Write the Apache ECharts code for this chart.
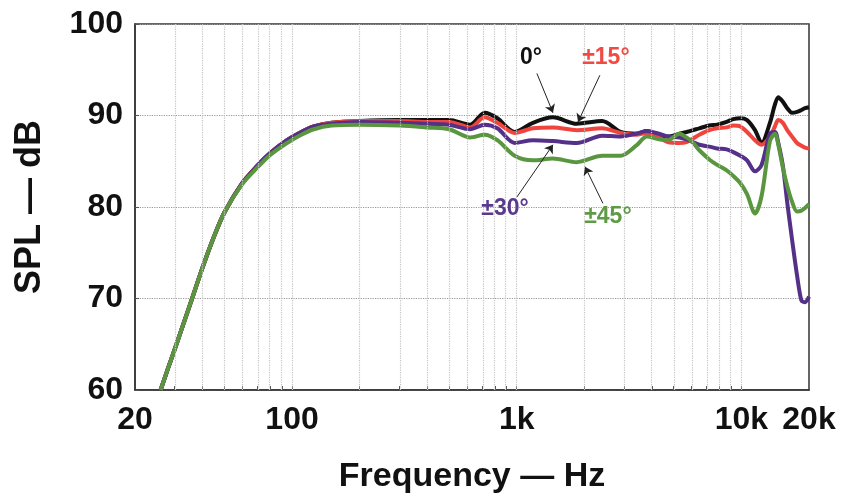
<!DOCTYPE html>
<html>
<head>
<meta charset="utf-8">
<script src="https://cdn.jsdelivr.net/npm/echarts@6/dist/echarts.min.js"></script>
<style>
  html, body { margin: 0; padding: 0; background: #fff; }
  #chart { width: 846px; height: 502px; }
</style>
</head>
<body>
<div id="chart"></div>
<script>
// frequency points (Hz) shared by all curves
var freqs = [26, 28, 30, 32, 35, 40, 45, 50, 60, 70, 80, 95, 110, 125, 150,
  200, 300, 400, 500, 620, 720, 820, 980, 1180, 1450,
  1850, 2400, 2900, 3400, 3800, 4300, 4700, 5300, 5700, 6100,
  6500, 7200, 7800, 8600, 9200, 9900, 10600, 11500, 12300, 13400,
  14100, 14600, 15300, 16000, 16800, 17700, 18500, 19200, 20000];

var spl0 = [60, 62.3, 64.4, 66.4, 69.2, 73.4, 76.8, 79.4, 82.6, 84.5, 85.9, 87.3, 88.2, 88.8, 89.2,
  89.4, 89.5, 89.5, 89.5, 89.0, 90.3, 89.7, 88.2, 89.2, 89.8,
  89.1, 89.4, 88.2, 88.0, 88.3, 87.8, 87.7, 88.0, 88.2, 88.4,
  88.6, 88.9, 89.0, 89.3, 89.6, 89.7, 89.5, 88.4, 87.0, 89.2,
  91.2, 92.0, 91.5, 90.8, 90.3, 90.4, 90.6, 90.8, 90.9];

var spl15 = [60, 62.3, 64.4, 66.4, 69.2, 73.4, 76.8, 79.4, 82.6, 84.5, 85.9, 87.3, 88.2, 88.8, 89.2,
  89.4, 89.4, 89.3, 89.3, 88.7, 89.8, 89.2, 88.1, 88.6, 88.7,
  88.4, 88.6, 88.1, 87.9, 88.1, 87.6, 87.1, 87.0, 87.1, 87.5,
  87.9, 88.4, 88.6, 88.7, 88.9, 88.8, 88.2, 87.3, 86.8, 87.7,
  88.8, 89.5, 89.2, 88.4, 87.7, 87.0, 86.7, 86.5, 86.4];

var spl30 = [60, 62.3, 64.4, 66.4, 69.2, 73.4, 76.8, 79.4, 82.6, 84.5, 85.9, 87.3, 88.2, 88.8, 89.1,
  89.3, 89.2, 89.1, 89.0, 88.5, 89.0, 88.6, 87.0, 87.3, 87.2,
  87.0, 87.8, 87.7, 88.0, 88.3, 88.0, 87.7, 87.6, 87.4, 87.1,
  86.8, 86.6, 86.4, 86.3, 86.0, 85.6, 85.1, 83.9, 84.6, 88.0,
  88.2, 87.0, 84.5, 80.5, 76.5, 72.5, 69.8, 69.6, 70.2];

var spl45 = [60, 62.3, 64.4, 66.4, 69.2, 73.4, 76.8, 79.4, 82.5, 84.3, 85.7, 87.0, 87.9, 88.5, 88.9,
  89.0, 88.9, 88.7, 88.5, 87.6, 87.9, 87.3, 85.6, 85.1, 85.3,
  84.9, 85.6, 85.6, 86.7, 87.7, 87.4, 87.3, 88.0, 87.6, 87.0,
  86.2, 85.2, 84.6, 84.0, 83.4, 82.6, 81.4, 79.3, 81.2, 87.2,
  88.0, 86.8, 84.3, 82.3, 80.6, 79.5, 79.6, 79.9, 80.3];

// axis ticks
var gridFreqs = [30, 40, 50, 60, 70, 80, 90, 100, 200, 300, 400, 500, 600, 700, 800, 900, 1000,
  2000, 3000, 4000, 5000, 6000, 7000, 8000, 9000, 10000];
var labelFreqs = [20, 100, 1000, 10000, 20000];
var labelTexts = ['20', '100', '1k', '10k', '20k'];

// callouts: text, colour, label position, arrow tail, arrow head (Hz, dB)
var callouts = [
  { text: '0°', color: '#111111', at: [1157, 96.3], from: [1230, 94.6], to: [1450, 90.3] },
  { text: '±15°', color: '#f04a45', at: [2494, 96.3], from: [2345, 94.4], to: [1875, 89.3] },
  { text: '±30°', color: '#5a3a8c', at: [887, 79.8], from: [1003, 81.1], to: [1450, 86.8] },
  { text: '±45°', color: '#5f9a45', at: [2546, 78.9], from: [2420, 80.4], to: [2014, 84.4] }
];

var lg = Math.log10;
var font = "'Liberation Sans', Arial, Helvetica, sans-serif";

function toPts(vals) {
  return freqs.map(function (f, i) { return [lg(f), vals[i]]; });
}

function curve(name, vals, color) {
  return {
    name: name,
    type: 'line',
    data: toPts(vals),
    showSymbol: false,
    smooth: 0.3,
    lineStyle: { color: color, width: 4 },
    itemStyle: { color: color },
    z: 3
  };
}

var myChart = echarts.init(document.getElementById('chart'));

var option = {
  animation: false,
  backgroundColor: '#fff',
  grid: {
    left: 135, top: 24, right: 37, bottom: 112,
    show: true, borderColor: '#333', borderWidth: 1.5, backgroundColor: 'transparent'
  },
  xAxis: {
    type: 'value',
    min: lg(20),
    max: lg(20000),
    name: 'Frequency — Hz',
    nameLocation: 'middle',
    nameGap: 70,
    nameTextStyle: { fontFamily: font, fontWeight: 'bold', fontSize: 34, color: '#111' },
    axisLine: { show: true, lineStyle: { color: '#333', width: 1.5 } },
    axisTick: {
      show: true, inside: true, length: 4,
      customValues: gridFreqs.map(lg),
      lineStyle: { color: '#555', width: 1 }
    },
    axisLabel: {
      customValues: labelFreqs.map(lg),
      margin: 14,
      fontFamily: font, fontWeight: 'bold', fontSize: 32, color: '#111',
      formatter: function (v) {
        var best = 0;
        labelFreqs.forEach(function (f, i) {
          if (Math.abs(lg(f) - v) < Math.abs(lg(labelFreqs[best]) - v)) best = i;
        });
        return labelTexts[best];
      }
    },
    splitLine: { show: false }
  },
  yAxis: {
    type: 'value',
    min: 60,
    max: 100,
    interval: 10,
    name: 'SPL — dB',
    nameLocation: 'middle',
    nameGap: 87,
    nameRotate: 90,
    nameTextStyle: { fontFamily: font, fontWeight: 'bold', fontSize: 36, color: '#111' },
    axisLine: { show: true, lineStyle: { color: '#333', width: 1.5 } },
    axisTick: { show: true, inside: true, length: 4, lineStyle: { color: '#555' } },
    axisLabel: { margin: 12, fontFamily: font, fontWeight: 'bold', fontSize: 32, color: '#111' },
    splitLine: { show: true, lineStyle: { type: 'dotted', color: '#999', width: 1.2 } }
  },
  series: [
    {
      name: 'grid',
      type: 'line',
      data: [],
      silent: true,
      markLine: {
        silent: true,
        symbol: 'none',
        label: { show: false },
        lineStyle: { type: 'dotted', color: '#c4c4c4', width: 1.2 },
        data: gridFreqs.map(function (f) { return { xAxis: lg(f) }; })
      },
      z: 1
    },
    curve('0°', spl0, '#111111'),
    curve('±15°', spl15, '#f0453f'),
    curve('±30°', spl30, '#553088'),
    curve('±45°', spl45, '#5a9640'),
    {
      name: 'arrows',
      type: 'lines',
      coordinateSystem: 'cartesian2d',
      silent: true,
      symbol: ['none', 'arrow'],
      symbolSize: 8,
      lineStyle: { color: '#222', width: 1, opacity: 1 },
      data: callouts.map(function (c) {
        return { coords: [[lg(c.from[0]), c.from[1]], [lg(c.to[0]), c.to[1]]] };
      }),
      z: 5
    },
    {
      name: 'callouts',
      type: 'scatter',
      silent: true,
      symbolSize: 1,
      itemStyle: { color: 'rgba(0,0,0,0)' },
      data: callouts.map(function (c) {
        return {
          value: [lg(c.at[0]), c.at[1]],
          label: {
            show: true, position: 'inside', formatter: c.text,
            fontFamily: font, fontWeight: 'bold', fontSize: 23, color: c.color,
            textBorderWidth: 0, opacity: 1
          }
        };
      }),
      z: 6
    }
  ]
};

myChart.setOption(option);
</script>
</body>
</html>
